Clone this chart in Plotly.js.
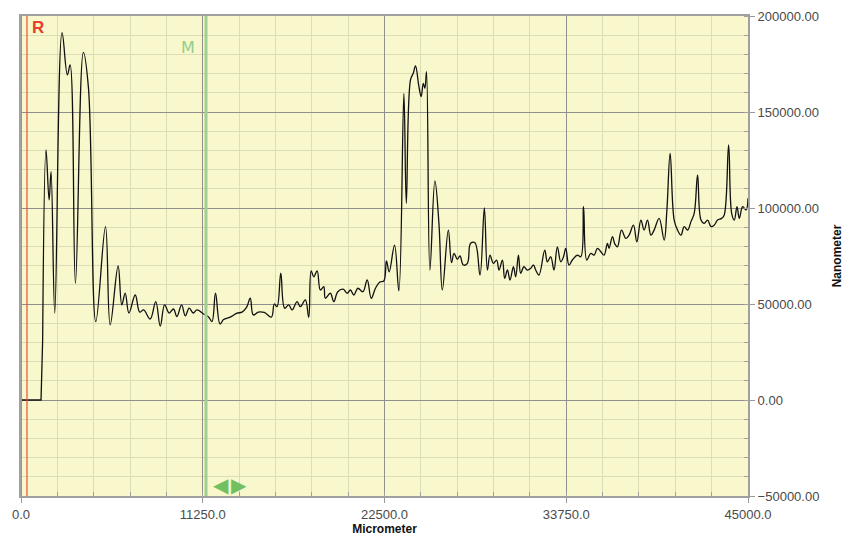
<!DOCTYPE html>
<html>
<head>
<meta charset="utf-8">
<script src="https://cdn.plot.ly/plotly-3.0.1.min.js"></script>
<style>html,body{margin:0;padding:0;background:#fff;}#chart{width:844px;height:536px;}</style>
</head>
<body>
<div id="chart"></div>
<script>
// Baseline step before the profile starts (Micrometer, Nanometer)
var stepX = [0, 1240, 1340];
var stepY = [0, 0, 31200];

// Measured profile (Micrometer -> Nanometer)
var profileX = [1340, 1550, 1740, 1860, 2090, 2540, 2870, 3040, 3370, 3860, 4170, 4630, 5230, 5520, 6010, 6240, 6450, 6680, 7070, 7350, 7590, 8000, 8340, 8620, 8890, 9170, 9440, 9650, 9940, 10170, 10410, 10660, 10890, 11300, 11610, 11820, 12040, 12320, 12540, 12950, 13370, 13680, 13960, 14190, 14380, 14690, 15060, 15500, 15680, 15850, 16080, 16320, 16570, 16780, 17090, 17290, 17600, 17810, 17960, 18120, 18330, 18530, 18740, 18840, 19150, 19360, 19610, 19940, 20190, 20390, 20600, 20850, 21160, 21430, 21680, 21940, 22210, 22460, 22620, 22790, 23120, 23390, 23700, 23850, 24110, 24280, 24420, 24630, 24770, 24900, 25000, 25100, 25310, 25620, 25870, 26080, 26450, 26650, 26800, 27010, 27170, 27380, 27630, 27830, 28100, 28410, 28680, 28870, 29030, 29240, 29440, 29590, 29800, 29940, 30110, 30270, 30480, 30620, 30790, 30930, 31130, 31340, 31550, 31720, 31860, 32060, 32420, 32580, 32790, 32990, 33200, 33410, 33580, 33720, 33920, 34130, 34440, 34650, 34820, 35020, 35270, 35470, 35680, 35890, 36090, 36300, 36400, 36610, 36760, 36920, 37170, 37440, 37640, 37910, 38120, 38370, 38570, 38780, 38990, 39190, 39500, 39810, 39980, 40180, 40430, 40640, 40850, 41050, 41260, 41470, 41670, 41880, 42090, 42290, 42500, 42710, 42910, 43120, 43370, 43530, 43800, 43990, 44150, 44320, 44460, 44670, 44880, 45000];
var profileY = [31200, 130200, 104200, 118900, 45300, 191300, 169300, 174500, 60800, 181100, 163200, 40800, 90300, 39100, 69800, 49500, 55700, 45300, 54700, 45800, 46900, 42200, 51200, 38500, 49500, 45300, 47400, 43500, 49500, 43800, 47900, 45300, 46900, 44800, 43200, 40900, 55600, 39600, 41900, 43200, 45200, 45800, 48200, 53000, 44300, 45800, 45600, 43200, 50000, 48600, 66100, 47800, 49500, 46900, 51200, 48600, 52100, 43100, 67300, 64200, 67300, 57300, 59000, 53000, 55600, 51200, 56400, 57700, 55600, 57300, 54700, 58200, 56400, 62500, 53000, 58200, 61500, 62000, 72400, 66800, 80700, 56800, 159700, 102400, 166700, 170200, 174000, 163200, 158000, 164900, 162300, 171000, 67700, 114100, 92000, 57300, 88500, 71500, 76400, 73300, 75000, 70300, 71200, 81600, 81900, 65100, 100000, 67700, 75500, 71200, 72900, 67700, 72900, 63400, 67700, 62500, 69400, 64200, 75500, 66000, 69400, 67700, 68600, 70300, 67700, 65100, 78100, 72000, 74600, 67700, 79800, 72000, 74600, 79000, 70300, 72900, 75500, 74600, 100700, 72900, 76400, 75500, 79000, 77200, 75500, 81600, 79000, 85100, 81200, 79800, 88500, 84200, 85900, 91100, 82400, 93700, 88500, 93700, 85900, 88500, 94600, 83300, 99000, 128500, 93700, 88500, 85900, 90300, 88500, 92900, 97200, 117200, 93700, 92000, 93700, 90300, 91100, 93700, 94600, 96400, 132800, 97200, 93700, 100700, 94600, 100700, 99000, 105100];

// Cursor positions (Micrometer)
var cursorStart = 0;
var cursorR = 370;
var cursorM = 11450;

// Axis ticks
var xTicks = [0, 11250, 22500, 33750, 45000];
var yTicks = [-50000, 0, 50000, 100000, 150000, 200000];

var tickFont = {family: 'Liberation Sans, Arial, sans-serif', size: 13, color: '#4a4a4a'};

var traces = [
  {x: stepX, y: stepY, type: 'scatter', mode: 'lines', line: {color: '#111', width: 1.3, shape: 'linear'}, hoverinfo: 'skip', showlegend: false},
  {x: profileX, y: profileY, type: 'scatter', mode: 'lines', line: {color: '#111', width: 1.3, shape: 'spline', smoothing: 1.1}, showlegend: false}
];

var layout = {
  width: 844, height: 536,
  margin: {l: 21, r: 96, t: 16, b: 40},
  paper_bgcolor: '#ffffff',
  plot_bgcolor: '#f9f8cc',
  showlegend: false,
  xaxis: {
    range: [0, 45000], tickvals: xTicks, tickformat: '.1f',
    ticks: 'outside', ticklen: 5, tickcolor: '#999', tickwidth: 1,
    showline: true, linecolor: '#a0a0a0', linewidth: 2, mirror: true,
    showgrid: true, gridcolor: '#8f8f8f', gridwidth: 1, zeroline: false,
    tickfont: tickFont,
    minor: {dtick: 2250, tick0: 0, showgrid: true, gridcolor: '#dcdcb6', gridwidth: 1, ticks: 'inside', ticklen: 4, tickcolor: '#a0a0a0'},
    title: {text: '<b>Micrometer</b>', font: {family: 'Liberation Sans, Arial, sans-serif', size: 12, color: '#111'}, standoff: 5},
    automargin: false
  },
  yaxis: {
    side: 'right',
    range: [-50000, 200000], tickvals: yTicks, tickformat: '.2f',
    ticks: 'outside', ticklen: 5, tickcolor: '#999', tickwidth: 1,
    showline: true, linecolor: '#a0a0a0', linewidth: 2, mirror: true,
    showgrid: true, gridcolor: '#8f8f8f', gridwidth: 1, zeroline: false,
    tickfont: tickFont,
    minor: {dtick: 10000, tick0: 0, showgrid: true, gridcolor: '#dcdcb6', gridwidth: 1, ticks: 'inside', ticklen: 4, tickcolor: '#a0a0a0'},
    title: {text: '<b>Nanometer</b>', font: {family: 'Liberation Sans, Arial, sans-serif', size: 12, color: '#111'}, standoff: 14},
    automargin: false
  },
  shapes: [
    {type: 'line', xref: 'x', yref: 'paper', x0: cursorStart, x1: cursorStart, y0: 0, y1: 1, line: {color: '#6f9fd6', width: 2}},
    {type: 'line', xref: 'x', yref: 'paper', x0: cursorR, x1: cursorR, y0: 0, y1: 1, line: {color: '#e8503a', width: 1.2}},
    {type: 'line', xref: 'x', yref: 'paper', x0: cursorM, x1: cursorM, y0: 0, y1: 1, line: {color: '#9fd08f', width: 3}}
  ],
  annotations: [
    {text: '<b>R</b>', xref: 'x', x: cursorR, xanchor: 'left', xshift: 3, yref: 'paper', y: 1, yanchor: 'top', yshift: 0, showarrow: false,
     font: {family: 'Liberation Sans, Arial, sans-serif', size: 17, color: '#e8402c'}},
    {text: 'M', xref: 'x', x: cursorM, xanchor: 'right', xshift: -9, yref: 'paper', y: 0.935, yanchor: 'middle', showarrow: false,
     font: {family: 'DejaVu Sans, sans-serif', size: 16, color: '#8fcf8a'}},
    {text: '◀', xref: 'x', x: cursorM, xanchor: 'center', xshift: 15, yref: 'paper', y: 0.023, yanchor: 'middle', showarrow: false,
     font: {family: 'DejaVu Sans, sans-serif', size: 20, color: '#72c062'}},
    {text: '▶', xref: 'x', x: cursorM, xanchor: 'center', xshift: 33, yref: 'paper', y: 0.023, yanchor: 'middle', showarrow: false,
     font: {family: 'DejaVu Sans, sans-serif', size: 20, color: '#72c062'}}
  ]
};

Plotly.newPlot('chart', traces, layout, {staticPlot: true, displayModeBar: false});
</script>
</body>
</html>
